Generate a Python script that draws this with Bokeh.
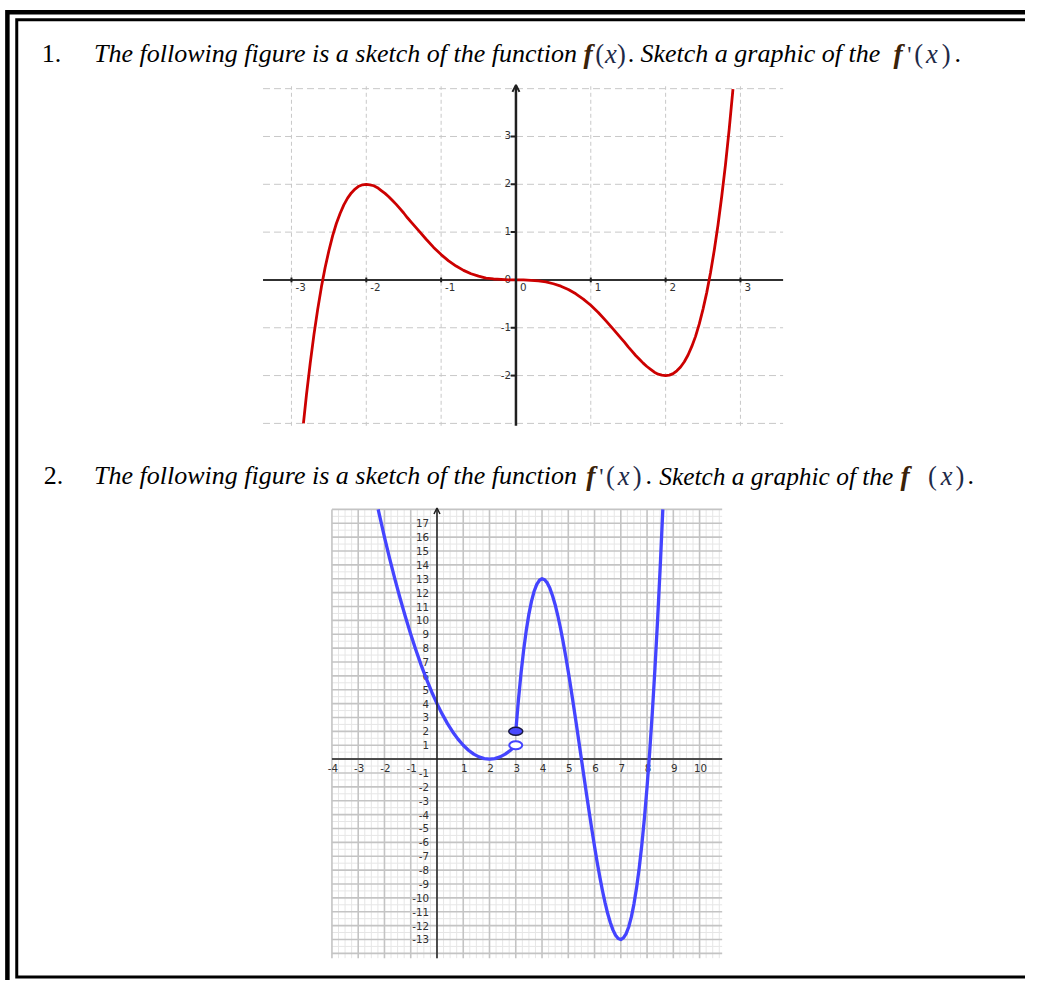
from bokeh.plotting import figure
from bokeh.models import Range1d, Arrow, OpenHead
from bokeh.core.properties import value
from bokeh.embed import file_html
from bokeh.resources import INLINE

# ---------------- values ----------------
# Graph 1 : sketch of f(x)
F_X = [-2.84, -2.8, -2.75, -2.7, -2.65, -2.6, -2.55, -2.5, -2.45, -2.4,
       -2.35, -2.3, -2.25, -2.2, -2.15, -2.1, -2.05, -2.0, -1.95, -1.9,
       -1.85, -1.8, -1.75, -1.7, -1.65, -1.6, -1.55, -1.5, -1.45, -1.4,
       -1.3, -1.2, -1.1, -1.0, -0.9, -0.8, -0.7, -0.6, -0.5, -0.4,
       -0.3, -0.2, -0.1, 0.0, 0.1, 0.2, 0.3, 0.4, 0.5, 0.6,
       0.7, 0.8, 0.9, 1.0, 1.1, 1.2, 1.3, 1.4, 1.45, 1.5,
       1.55, 1.6, 1.65, 1.7, 1.75, 1.8, 1.85, 1.9, 1.95, 2.0,
       2.05, 2.1, 2.15, 2.2, 2.25, 2.3, 2.35, 2.4, 2.45, 2.5,
       2.55, 2.6, 2.65, 2.7, 2.75, 2.8, 2.85, 2.9]
F_Y = [-3.00, -2.41, -1.75, -1.15, -0.62, -0.15, 0.26, 0.61, 0.92, 1.18,
       1.39, 1.57, 1.71, 1.82, 1.90, 1.96, 1.99, 2.00, 1.99, 1.97,
       1.93, 1.87, 1.81, 1.74, 1.66, 1.58, 1.49, 1.40, 1.30, 1.21,
       1.03, 0.85, 0.68, 0.53, 0.40, 0.29, 0.20, 0.13, 0.08, 0.04,
       0.02, 0.01, 0.00, 0.00, 0.00, -0.01, -0.02, -0.04, -0.08, -0.13,
       -0.20, -0.29, -0.40, -0.53, -0.68, -0.85, -1.03, -1.21, -1.30, -1.40,
       -1.49, -1.58, -1.66, -1.74, -1.81, -1.87, -1.93, -1.97, -1.99, -2.00,
       -1.99, -1.96, -1.90, -1.82, -1.71, -1.57, -1.39, -1.18, -0.92, -0.61,
       -0.26, 0.15, 0.62, 1.15, 1.75, 2.41, 3.16, 3.99]
G1_XTICKS = [-3, -2, -1, 1, 2, 3]
G1_YTICKS = [-2, -1, 1, 2, 3]
G1_XGRID = [-3, -2, -1, 1, 2, 3]
G1_YGRID = [-3, -2, -1, 1, 2, 3, 4]

# Graph 2 : sketch of f'(x)
FP_LEFT_X = [-2.24, -2.0, -1.8, -1.6, -1.4, -1.2, -1.0, -0.8, -0.6, -0.4,
             -0.2, 0.0, 0.2, 0.4, 0.6, 0.8, 1.0, 1.2, 1.4, 1.6,
             1.8, 2.0, 2.2, 2.4, 2.6, 2.8, 3.0]
FP_LEFT_Y = [18.0, 16.0, 14.44, 12.96, 11.56, 10.24, 9.0, 7.84, 6.76, 5.76,
             4.84, 4.0, 3.24, 2.56, 1.96, 1.44, 1.0, 0.64, 0.36, 0.16,
             0.04, 0.0, 0.04, 0.16, 0.36, 0.64, 1.0]
FP_RIGHT_X = [3.0, 3.1, 3.2, 3.3, 3.4, 3.5, 3.6, 3.7, 3.8, 3.9,
              4.0, 4.1, 4.2, 4.3, 4.4, 4.5, 4.6, 4.7, 4.8, 4.9,
              5.0, 5.1, 5.2, 5.3, 5.4, 5.5, 5.6, 5.7, 5.8, 5.9,
              6.0, 6.1, 6.2, 6.3, 6.4, 6.5, 6.6, 6.7, 6.8, 6.9,
              7.0, 7.1, 7.2, 7.3, 7.4, 7.5, 7.6, 7.7, 7.8, 7.9,
              8.0, 8.1, 8.2, 8.3, 8.4, 8.5, 8.6]
FP_RIGHT_Y = [2.00, 4.23, 6.18, 7.86, 9.28, 10.45, 11.39, 12.10, 12.59, 12.89,
              13.00, 12.93, 12.70, 12.31, 11.78, 11.13, 10.35, 9.47, 8.49, 7.43,
              6.30, 5.11, 3.87, 2.60, 1.31, 0.00, -1.31, -2.60, -3.87, -5.11,
              -6.30, -7.43, -8.49, -9.47, -10.35, -11.13, -11.78, -12.31, -12.70, -12.93,
              -13.00, -12.89, -12.59, -12.10, -11.39, -10.45, -9.28, -7.86, -6.18, -4.23,
              -2.00, 0.53, 3.36, 6.52, 10.00, 13.83, 18.00]
OPEN_X = [3]
OPEN_Y = [1]
CLOSED_X = [3]
CLOSED_Y = [2]
G2_XTICKS = [-4, -3, -2, -1, 1, 2, 3, 4, 5, 6, 7, 8, 9, 10]
G2_YTICKS = [17, 16, 15, 14, 13, 12, 11, 10, 9, 8, 7, 6, 5, 4, 3, 2, 1,
             -1, -2, -3, -4, -5, -6, -7, -8, -9, -10, -11, -12, -13]

# heading texts: (text, x position, kind, size)
LINE1 = [("1.", 42, "num", 26.4), ("The following figure is a sketch of the function", 95, "it", 26.4),
         ("f", 592, "f", 28.0), ("(", 604, "par", 27.0), ("x", 614, "x", 27.0),
         (")", 626, "par", 27.0), (".", 637, "num", 26.4),
         ("Sketch a graphic of the", 650, "it", 26.4), ("f", 907, "f", 28.0),
         ("'", 921, "p", 24.0), ("(", 928, "par", 27.0), ("x", 940, "x", 27.0),
         (")", 956, "par", 27.0), (".", 969, "num", 26.4)]
LINE2 = [("2.", 44, "num", 26.4), ("The following figure is a sketch of the function", 95, "it", 26.4),
         ("f", 595, "f", 28.0), ("'", 608, "p", 24.0), ("(", 615, "par", 27.0),
         ("x", 627, "x", 27.0), (")", 642, "par", 27.0), (".", 655, "num", 26.4),
         ("Sketch a graphic of the", 669, "it", 25.8), ("f", 914, "f", 28.0),
         ("(", 942, "par", 27.0), ("x", 955, "x", 27.0), (")", 970, "par", 27.0),
         (".", 982, "num", 26.4)]

# ---------------- layout (reference pixel frame) ----------------
W, H = 1025, 980
REF_W, REF_H = 1041, 996
S = W / REF_W

p = figure(width=W, height=H, x_range=Range1d(0, REF_W), y_range=Range1d(REF_H, 0),
           output_backend="svg", toolbar_location=None, min_border=0,
           x_axis_type=None, y_axis_type=None)
p.grid.visible = False
p.outline_line_color = None
p.background_fill_color = "white"
p.border_fill_color = "white"


def add_frame(name, ox, ux, oy, uy):
    p.extra_x_ranges[name + "x"] = Range1d((0 - ox) / ux, (REF_W - ox) / ux)
    p.extra_y_ranges[name + "y"] = Range1d((oy - REF_H) / uy, oy / uy)
    return dict(x_range_name=name + "x", y_range_name=name + "y")


# page border (double frame)
p.line([1060, 7, 7], [12, 12, 1010], line_color="black", line_width=4.5, line_join="miter")
p.line([1060, 16.5, 16.5, 1060], [19.5, 19.5, 992.5, 992.5], line_color="black",
       line_width=3, line_join="miter")

SERIF = "Liberation Serif"
KINDS = {
    "num": dict(style="normal", color="black"),
    "it": dict(style="italic", color="black"),
    "f": dict(style="bold italic", color="#3a2208"),
    "x": dict(style="italic", color="#1e2a48"),
    "par": dict(style="normal", color="#1e2a48"),
    "p": dict(style="normal", color="#1e2a48"),
}
for base, line in ((54, LINE1), (483, LINE2)):
    for s, x, kind, size in line:
        k = KINDS[kind]
        p.text(x=[x], y=[base], text=[s], text_font=value(SERIF),
               text_font_style=k["style"], text_font_size=f"{size * S:.1f}px",
               text_color=k["color"], text_baseline="alphabetic", text_align="left")

# ---------------- graph 1 ----------------
g1 = add_frame("g1", 523.5, 76.0, 284.0, 48.6)
G1_XMIN, G1_XMAX, G1_YMIN, G1_YMAX = -3.38, 3.57, -3.05, 4.05
GRID1 = "#c8c8c8"
p.segment(x0=[G1_XMIN] * len(G1_YGRID), x1=[G1_XMAX] * len(G1_YGRID), y0=G1_YGRID, y1=G1_YGRID,
          line_color=GRID1, line_width=1, line_dash="7 4", **g1)
p.segment(x0=G1_XGRID, x1=G1_XGRID, y0=[G1_YMIN] * len(G1_XGRID), y1=[G1_YMAX] * len(G1_XGRID),
          line_color=GRID1, line_width=1, line_dash="4 3", **g1)
p.segment(x0=[G1_XMIN], x1=[G1_XMAX], y0=[0], y1=[0], line_color="#303030", line_width=2, **g1)
p.add_layout(Arrow(end=OpenHead(size=7, line_width=2, line_color="#202020"),
                   x_start=0, y_start=G1_YMIN, x_end=0, y_end=G1_YMAX + 0.03,
                   line_color="#202020", line_width=2.5, **g1))
p.segment(x0=G1_XTICKS, x1=G1_XTICKS, y0=[-0.05] * len(G1_XTICKS), y1=[0.05] * len(G1_XTICKS),
          line_color="#202020", line_width=2, **g1)
p.segment(x0=[-0.07] * len(G1_YTICKS), x1=[0] * len(G1_YTICKS), y0=G1_YTICKS, y1=G1_YTICKS,
          line_color="#202020", line_width=2, **g1)
LAB = dict(text_font=value("DejaVu Sans"), text_font_size=f"{10.5 * S:.1f}px", text_color="#303030")
p.text(x=G1_XTICKS + [0], y=[0] * (len(G1_XTICKS) + 1),
       text=[str(t) for t in G1_XTICKS] + ["0"], x_offset=4, y_offset=3,
       text_baseline="top", text_align="left", **LAB, **g1)
p.text(x=[0] * (len(G1_YTICKS) + 1), y=G1_YTICKS + [0],
       text=[str(t) for t in G1_YTICKS] + ["0"], x_offset=-5, y_offset=-1,
       text_baseline="alphabetic", text_align="right", **LAB, **g1)
p.line(F_X, F_Y, line_color="#cc0000", line_width=2.8, line_join="round", **g1)

# ---------------- graph 2 ----------------
g2 = add_frame("g2", 443.3, 26.67, 771.0, 14.1)
G2_XMIN, G2_XMAX, G2_YMIN, G2_YMAX = -4.0, 10.86, -14.35, 18.0
minor_x = [k / 4 for k in range(-16, 44) if k % 4]
minor_y = [k / 2 for k in range(-28, 37) if k % 2]
major_x = list(range(-4, 11))
major_y = list(range(-14, 19))
p.segment(x0=minor_x, x1=minor_x, y0=[G2_YMIN] * len(minor_x), y1=[G2_YMAX] * len(minor_x),
          line_color="#e6e6e6", line_width=1, **g2)
p.segment(x0=[G2_XMIN] * len(minor_y), x1=[G2_XMAX] * len(minor_y), y0=minor_y, y1=minor_y,
          line_color="#e6e6e6", line_width=1, **g2)
p.segment(x0=major_x, x1=major_x, y0=[G2_YMIN] * len(major_x), y1=[G2_YMAX] * len(major_x),
          line_color="#c4c4c4", line_width=1.6, **g2)
p.segment(x0=[G2_XMIN] * len(major_y), x1=[G2_XMAX] * len(major_y), y0=major_y, y1=major_y,
          line_color="#c4c4c4", line_width=1.6, **g2)
p.segment(x0=[G2_XMIN], x1=[G2_XMAX], y0=[0], y1=[0], line_color="#202020", line_width=1.5, **g2)
p.add_layout(Arrow(end=OpenHead(size=6, line_width=1.5, line_color="#202020"),
                   x_start=0, y_start=G2_YMIN, x_end=0, y_end=G2_YMAX + 0.1,
                   line_color="#202020", line_width=1.5, **g2))
LAB2 = dict(text_font=value("DejaVu Sans"), text_font_size=f"{10.5 * S:.1f}px", text_color="#303030")
p.text(x=G2_XTICKS, y=[0] * len(G2_XTICKS), text=[str(t) for t in G2_XTICKS],
       x_offset=1, y_offset=9, text_baseline="middle", text_align="center", **LAB2, **g2)
p.text(x=[0] * len(G2_YTICKS), y=G2_YTICKS, text=[str(t) for t in G2_YTICKS],
       x_offset=-8, y_offset=0, text_baseline="middle", text_align="right", **LAB2, **g2)
BLUE = "#4444ff"
p.line(FP_LEFT_X, FP_LEFT_Y, line_color=BLUE, line_width=3.3, line_join="round", **g2)
p.line(FP_RIGHT_X, FP_RIGHT_Y, line_color=BLUE, line_width=3.3, line_join="round", **g2)
p.ellipse(x=OPEN_X, y=OPEN_Y, width=13, height=8, width_units="screen", height_units="screen",
          fill_color="white", line_color=BLUE, line_width=2, **g2)
p.ellipse(x=CLOSED_X, y=CLOSED_Y, width=14, height=8, width_units="screen", height_units="screen",
          fill_color="#4a4aff", line_color="#1a1a40", line_width=1.5, **g2)

open("out.html", "w").write(file_html(p, INLINE))
